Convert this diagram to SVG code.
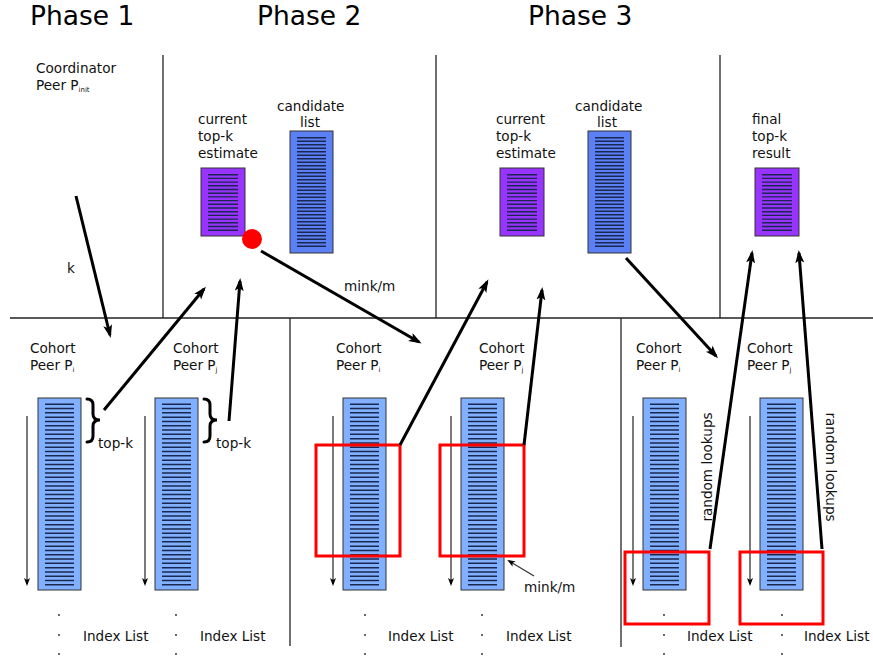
<svg xmlns="http://www.w3.org/2000/svg" width="873" height="662" viewBox="0 0 873 662">
<style>
.t{font-family:"DejaVu Sans","Liberation Sans",sans-serif;font-size:13.6px;fill:#111}
.h{font-family:"DejaVu Sans","Liberation Sans",sans-serif;font-size:26.5px;fill:#000}
.sub{font-size:7px}
.div{stroke:#222;stroke-width:1.3;fill:none}
.big{stroke:#000;stroke-width:3;fill:none;marker-end:url(#ah)}
.thin{stroke:#333;stroke-width:1.3;fill:none;marker-end:url(#as)}
.red{stroke:#f00;stroke-width:3;fill:none}
.coh{fill:#80b0ff;stroke:#333;stroke-width:1}
.cand{fill:#5b80f5;stroke:#333;stroke-width:1}
.pur{fill:#9933ff;stroke:#333;stroke-width:1}
.bars{stroke:#1a2850;fill:none}
.brace{stroke:#000;stroke-width:3;fill:none;stroke-linecap:round}
.dot{fill:#222}
</style>
<defs>
<marker id="ah" markerUnits="userSpaceOnUse" markerWidth="14" markerHeight="10" refX="10" refY="4.5" orient="auto"><path d="M0,0 L13,4.5 L0,9 L3,4.5 z" fill="#000"/></marker>
<marker id="as" markerUnits="userSpaceOnUse" markerWidth="10" markerHeight="8" refX="6" refY="3" orient="auto"><path d="M0,0 L8,3 L0,6 L2,3 z" fill="#000"/></marker>
<g id="cohortList"><rect class="coh" x="0" y="0" width="43" height="192"/><line class="bars" x1="21.5" y1="5.5" x2="21.5" y2="188" stroke-width="29" stroke-dasharray="1.5 2.8"/></g>
<g id="purpleList"><rect class="pur" x="0" y="0" width="44" height="68"/><line class="bars" x1="22" y1="6" x2="22" y2="63" stroke-width="30" stroke-dasharray="1.4 2.3"/></g>
<g id="candList"><rect class="cand" x="0" y="0" width="43" height="122"/><line class="bars" x1="21.5" y1="6" x2="21.5" y2="117" stroke-width="29" stroke-dasharray="1.4 2.1"/></g>
<g id="dots"><circle class="dot" cx="0" cy="0" r="0.9"/><circle class="dot" cx="0" cy="20" r="0.9"/><circle class="dot" cx="0" cy="39" r="0.9"/></g>
</defs>
<rect width="873" height="662" fill="#fff"/>

<g id="titles">
<text class="h" x="30" y="25">Phase 1</text>
<text class="h" x="257" y="25">Phase 2</text>
<text class="h" x="528" y="25">Phase 3</text>
</g>

<g id="dividers">
<line class="div" x1="10" y1="318" x2="873" y2="318"/>
<line class="div" x1="163" y1="55" x2="163" y2="318"/>
<line class="div" x1="436" y1="55" x2="436" y2="318"/>
<line class="div" x1="720" y1="55" x2="720" y2="318"/>
<line class="div" x1="290" y1="318" x2="290" y2="646"/>
<line class="div" x1="621" y1="318" x2="621" y2="647"/>
</g>

<g id="coordinator">
<text class="t" x="36" y="73">Coordinator</text>
<text class="t" x="36" y="90">Peer P<tspan class="sub" dy="2">init</tspan></text>
</g>

<g id="p2-estimate">
<text class="t" x="198" y="124">current</text>
<text class="t" x="198" y="141">top-k</text>
<text class="t" x="198" y="158">estimate</text>
<use href="#purpleList" x="201" y="168"/>
<circle cx="252" cy="239" r="10" fill="#f00"/>
</g>
<g id="p2-candidate">
<text class="t" x="277" y="111">candidate</text>
<text class="t" x="300" y="127">list</text>
<use href="#candList" x="290" y="131"/>
</g>

<g id="p3-estimate">
<text class="t" x="496" y="124">current</text>
<text class="t" x="496" y="141">top-k</text>
<text class="t" x="496" y="158">estimate</text>
<use href="#purpleList" x="500" y="168"/>
</g>
<g id="p3-candidate">
<text class="t" x="575" y="111">candidate</text>
<text class="t" x="597" y="127">list</text>
<use href="#candList" x="588" y="131"/>
</g>
<g id="final-result">
<text class="t" x="752" y="124">final</text>
<text class="t" x="752" y="141">top-k</text>
<text class="t" x="752" y="158">result</text>
<use href="#purpleList" x="755" y="168"/>
</g>

<g id="p1-peer-i">
<text class="t" x="30" y="353">Cohort</text>
<text class="t" x="30" y="370">Peer P<tspan class="sub" dy="2">i</tspan></text>
<use href="#cohortList" x="38" y="398"/>
<path class="brace" d="M87,399 Q93,399 93,405 L93,414 Q93,420 100,420 Q93,420 93,426 L93,436 Q93,442 87,442"/>
<text class="t" x="98" y="448">top-k</text>
<line class="thin" x1="27" y1="416" x2="27" y2="584"/>
<use href="#dots" x="59" y="615"/>
<text class="t" x="83" y="641">Index List</text>
</g>
<g id="p1-peer-j">
<text class="t" x="173" y="353">Cohort</text>
<text class="t" x="173" y="370">Peer P<tspan class="sub" dy="2">j</tspan></text>
<use href="#cohortList" x="155" y="398"/>
<path class="brace" d="M204,399 Q210,399 210,405 L210,414 Q210,420 217,420 Q210,420 210,426 L210,436 Q210,442 204,442"/>
<text class="t" x="216" y="448">top-k</text>
<line class="thin" x1="145" y1="416" x2="145" y2="584"/>
<use href="#dots" x="176" y="615"/>
<text class="t" x="200" y="641">Index List</text>
</g>

<g id="p2-peer-i">
<text class="t" x="336" y="353">Cohort</text>
<text class="t" x="336" y="370">Peer P<tspan class="sub" dy="2">i</tspan></text>
<use href="#cohortList" x="343" y="398"/>
<line class="thin" x1="333" y1="416" x2="333" y2="584"/>
<rect class="red" x="316" y="445" width="84" height="111"/>
<use href="#dots" x="365" y="615"/>
<text class="t" x="388" y="641">Index List</text>
</g>
<g id="p2-peer-j">
<text class="t" x="479" y="353">Cohort</text>
<text class="t" x="479" y="370">Peer P<tspan class="sub" dy="2">j</tspan></text>
<use href="#cohortList" x="461" y="398"/>
<line class="thin" x1="451" y1="416" x2="451" y2="584"/>
<rect class="red" x="440" y="445" width="84" height="111"/>
<use href="#dots" x="482" y="615"/>
<text class="t" x="506" y="641">Index List</text>
<text class="t" x="524" y="592">mink/m</text>
</g>

<g id="p3-peer-i">
<text class="t" x="636" y="353">Cohort</text>
<text class="t" x="636" y="370">Peer P<tspan class="sub" dy="2">i</tspan></text>
<use href="#cohortList" x="643" y="398"/>
<line class="thin" x1="633" y1="416" x2="633" y2="584"/>
<rect class="red" x="625" y="552" width="84" height="72"/>
<use href="#dots" x="664" y="615"/>
<text class="t" x="687" y="641">Index List</text>
<text class="t" transform="translate(712,467) rotate(-90)" text-anchor="middle">random lookups</text>
</g>
<g id="p3-peer-j">
<text class="t" x="747" y="353">Cohort</text>
<text class="t" x="747" y="370">Peer P<tspan class="sub" dy="2">j</tspan></text>
<use href="#cohortList" x="760" y="398"/>
<line class="thin" x1="750" y1="416" x2="750" y2="584"/>
<rect class="red" x="740" y="552" width="83" height="72"/>
<use href="#dots" x="782" y="615"/>
<text class="t" x="804" y="641">Index List</text>
<text class="t" transform="translate(826,467) rotate(90)" text-anchor="middle">random lookups</text>
</g>

<g id="connectors">
<line class="big" x1="76" y1="196" x2="110" y2="335"/>
<text class="t" x="67" y="273">k</text>
<line class="big" x1="104" y1="410" x2="204" y2="289"/>
<line class="big" x1="229" y1="421" x2="240" y2="281"/>
<line class="big" x1="261" y1="251" x2="419" y2="342"/>
<text class="t" x="344" y="291">mink/m</text>
<line class="big" x1="400" y1="445" x2="487" y2="282"/>
<line class="big" x1="524" y1="445" x2="542" y2="290"/>
<line class="big" x1="626" y1="258" x2="716" y2="356"/>
<line class="big" x1="710" y1="549" x2="752" y2="253"/>
<line class="big" x1="822" y1="549" x2="799" y2="253"/>
<line class="thin" x1="534" y1="576" x2="509" y2="561"/>
</g>
</svg>
